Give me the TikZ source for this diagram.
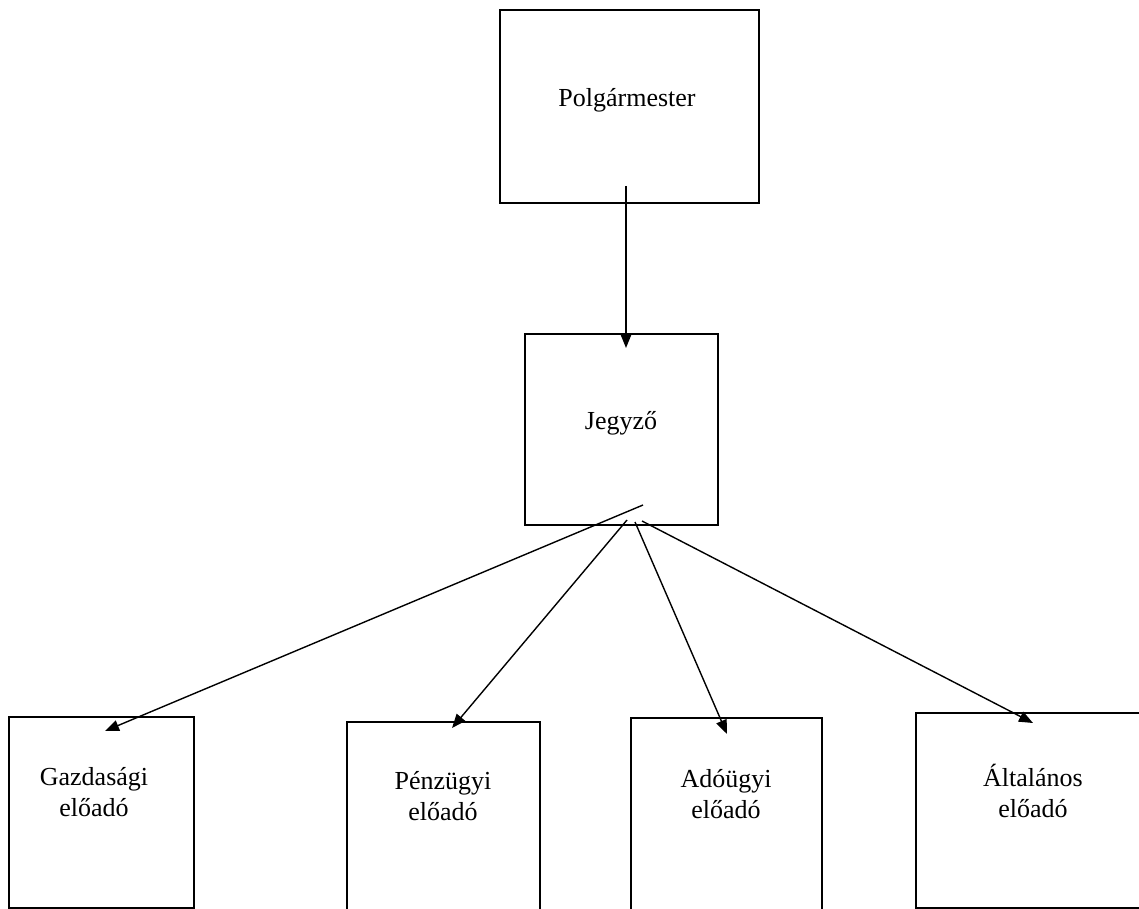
\documentclass[tikz,border=0pt]{standalone}
\usepackage{fontspec}
\setmainfont{Liberation Serif}
\usetikzlibrary{arrows.meta}
\begin{document}
\begin{tikzpicture}[x=1pt,y=-1pt,
  box/.style={draw=black, line width=1.9pt, inner sep=0pt, outer sep=0pt, rectangle},
  lbl/.style={font=\fontsize{26}{31.5}\selectfont, align=center, inner sep=0pt},
  conn/.style={line width=1.4pt, -{Triangle[length=14pt,width=11pt]}}]
\useasboundingbox (0,0) rectangle (1139,909);
\fill[white] (0,0) rectangle (1139,909);
\clip (0,0) rectangle (1139,909);
% boxes
\node[box, minimum width=259pt, minimum height=193pt] (polg) at (629.5,106.5) {};
\node[box, minimum width=193pt, minimum height=191pt] (jegy) at (621.5,429.5) {};
\node[box, minimum width=185pt, minimum height=191pt] (gazd) at (101.5,812.5) {};
\node[box, minimum width=193pt, minimum height=198pt] (penz) at (443.5,821) {};
\node[box, minimum width=191pt, minimum height=202pt] (ado) at (726.5,819) {};
\node[box, minimum width=234pt, minimum height=195pt] (alt) at (1033,810.5) {};
% texts
\node[lbl] (tpolg) at (627,100) {Polgármester};
\node[lbl] (tjegy) at (621,423) {Jegyző};
\node[lbl] (tgazd) at (94,792) {Gazdasági\\előadó};
\node[lbl] (tpenz) at (443,796) {Pénzügyi\\előadó};
\node[lbl] (tado) at (726,794) {Adóügyi\\előadó};
\node[lbl] (talt) at (1033,791) {Általános\\előadó};
% connector ends
\coordinate (s0) at (626,186);
\coordinate (e0) at (626,348);
\coordinate (s1) at (643,505);
\coordinate (e1) at (105,731);
\coordinate (s2) at (627,520);
\coordinate (e2) at (452,728);
\coordinate (s3) at (635,522);
\coordinate (e3) at (727,734);
\coordinate (s4) at (642,521);
\coordinate (e4) at (1033,723);
\draw[conn] (s0) -- (e0);
\draw[conn] (s1) -- (e1);
\draw[conn] (s2) -- (e2);
\draw[conn] (s3) -- (e3);
\draw[conn] (s4) -- (e4);
\end{tikzpicture}
\end{document}
